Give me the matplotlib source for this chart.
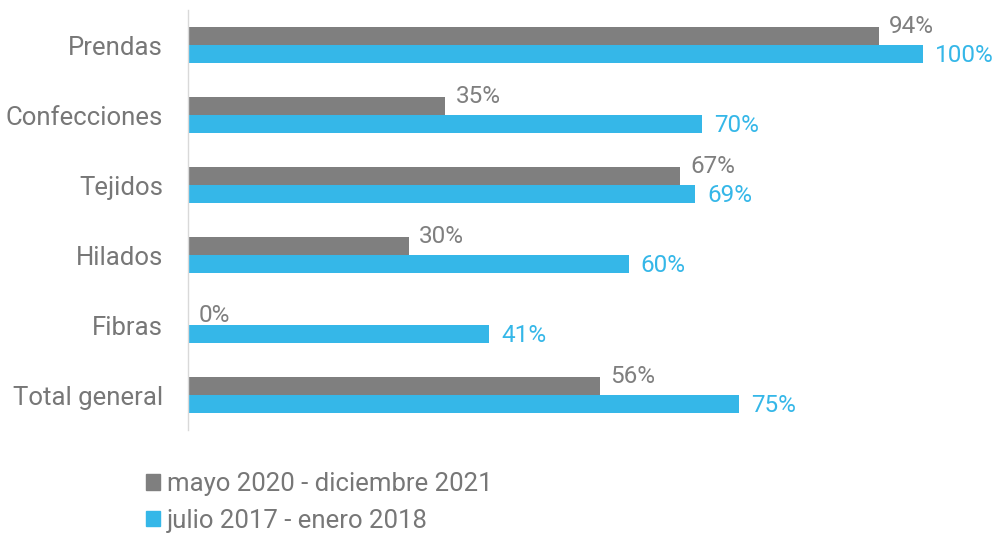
import matplotlib
matplotlib.use('Agg')
from matplotlib import pyplot as plt
from matplotlib.patches import Patch
import numpy as np

plt.rcParams['font.family'] = ['Roboto', 'DejaVu Sans']

categorias = ['Prendas', 'Confecciones', 'Tejidos', 'Hilados', 'Fibras', 'Total general']
mayo_2020 = [94, 35, 67, 30, 0, 56]
julio_2017 = [100, 70, 69, 60, 41, 75]
serie_gris = 'mayo 2020 - diciembre 2021'
serie_azul = 'julio 2017 - enero 2018'

gris = '#7f7f7f'
azul = '#35b7e8'
texto = '#777777'

fig = plt.figure(figsize=(10, 5.35), dpi=100)
ax = fig.add_axes([0.188, 0.196, 0.812, 0.785])

y = np.arange(len(categorias))
h = 0.257
ax.barh(y - h / 2, mayo_2020, height=h, color=gris)
ax.barh(y + h / 2, julio_2017, height=h, color=azul)

for i in range(len(categorias)):
    dy = -h * 1.05 if mayo_2020[i] > 0 else -h * 0.55
    ax.text(mayo_2020[i] + 1.4, y[i] + dy, f'{mayo_2020[i]}%', color=gris,
            fontsize=17.5, va='center', ha='left', clip_on=False)
    ax.text(julio_2017[i] + 1.6, y[i] + h / 2 + 0.02, f'{julio_2017[i]}%', color=azul,
            fontsize=17.5, va='center', ha='left', clip_on=False)

ax.set_xlim(0, 100 * 812 / 735)
ax.set_ylim(len(categorias) - 0.5, -0.5)
ax.set_yticks(y)
ax.set_yticklabels(categorias, fontsize=18.5, color=texto)
ax.tick_params(axis='y', length=0, pad=18)
ax.set_xticks([])
for s in ['top', 'right', 'bottom']:
    ax.spines[s].set_visible(False)
ax.spines['left'].set_color('#d9d9d9')
ax.spines['left'].set_linewidth(1)

handles = [Patch(color=gris), Patch(color=azul)]
fig.legend(handles, [serie_gris, serie_azul], loc='upper left',
           bbox_to_anchor=(0.136, 0.137), frameon=False, fontsize=18.5,
           labelcolor=texto, handlelength=0.55, handleheight=0.55,
           handletextpad=0.25, labelspacing=0.5, borderaxespad=0)

fig.savefig('out.png', dpi=100)
